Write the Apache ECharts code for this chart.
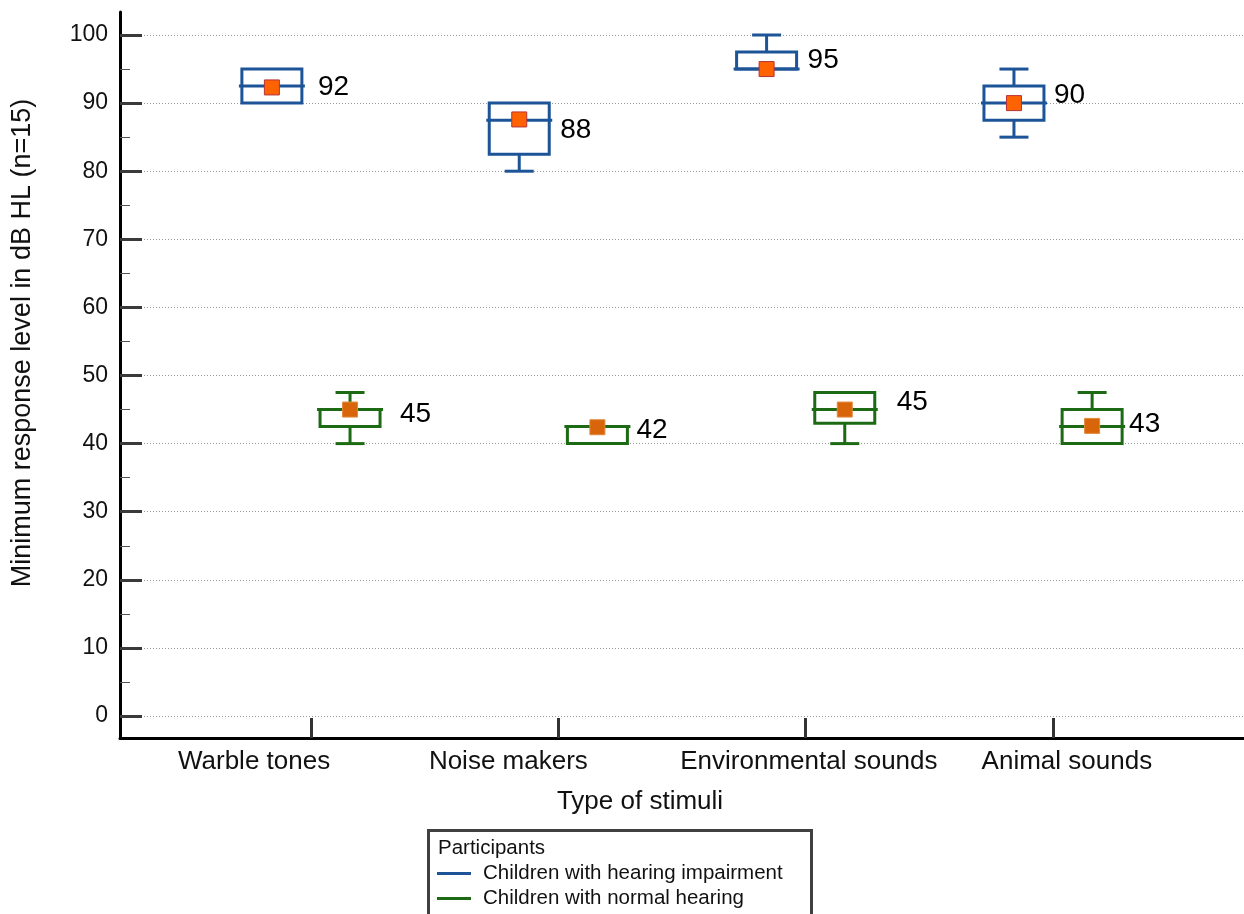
<!DOCTYPE html>
<html>
<head>
<meta charset="utf-8">
<title>Minimum response level by type of stimuli</title>
<script src="https://cdn.jsdelivr.net/npm/echarts@6/dist/echarts.min.js"></script>
<style>
  html, body { margin: 0; padding: 0; background: #fff; }
  #chart { width: 1244px; height: 914px; }
</style>
</head>
<body>
<div id="chart"></div>
<script>
// ---- data -------------------------------------------------------------
const categories = ['Warble tones', 'Noise makers', 'Environmental sounds', 'Animal sounds'];
const yTicks = [0, 10, 20, 30, 40, 50, 60, 70, 80, 90, 100];

// Children with hearing impairment (dB HL)
const impairedMin    = [90, 80, 95, 85];
const impairedQ1     = [90, 82.5, 95, 87.5];
const impairedMedian = [92.5, 87.5, 95, 90];
const impairedQ3     = [95, 90, 97.5, 92.5];
const impairedMax    = [95, 90, 100, 95];
const impairedMean   = [92.3, 87.6, 95, 90];

// Children with normal hearing (dB HL)
const normalMin    = [40, 40, 40, 40];
const normalQ1     = [42.5, 40, 43, 40];
const normalMedian = [45, 42.5, 45, 42.5];
const normalQ3     = [45, 42.5, 47.5, 45];
const normalMax    = [47.5, 42.5, 47.5, 47.5];
const normalMean   = [45, 42.4, 45, 42.6];

// ---- layout -----------------------------------------------------------
const X_MIN = 0.228, X_MAX = 4.772;       // category slots sit at 1..4
const GROUP_SHIFT = 0.158;                // left/right offset of the two groups
const categoryLabelAt = [0.770, 1.798, 3.013, 4.056];
const BOX_W = 60, CAP_W = 29, MEDIAN_EXT = 3, MARK = 15;
const impairedLabelShift = [[46, 0], [41, 11], [41, -9], [40, -8]];
const normalLabelShift   = [[50, 5], [39, 3], [52, -7], [37, -2]];

const BLUE = '#1d5497';
const GREEN = '#1c6b14';
const FONT = '"Liberation Sans", Arial, sans-serif';

function rows(mins, q1s, meds, q3s, maxs, means, shift) {
  return categories.map((c, i) => [i + 1 + shift, mins[i], q1s[i], meds[i], q3s[i], maxs[i], means[i]]);
}

function boxRenderer(color, markFill, markStroke, labelShift) {
  return function (params, api) {
    const x = api.value(0);
    const lo = api.value(1), q1 = api.value(2), med = api.value(3),
          q3 = api.value(4), hi = api.value(5), mean = api.value(6);
    const cx = api.coord([x, 0])[0];
    const y = v => api.coord([x, v])[1];
    const line = { stroke: color, lineWidth: 3 };
    const kids = [];
    if (hi > q3) {
      kids.push({ type: 'line', shape: { x1: cx, y1: y(q3), x2: cx, y2: y(hi) }, style: line });
      kids.push({ type: 'line', shape: { x1: cx - CAP_W / 2, y1: y(hi), x2: cx + CAP_W / 2, y2: y(hi) }, style: line });
    }
    if (lo < q1) {
      kids.push({ type: 'line', shape: { x1: cx, y1: y(q1), x2: cx, y2: y(lo) }, style: line });
      kids.push({ type: 'line', shape: { x1: cx - CAP_W / 2, y1: y(lo), x2: cx + CAP_W / 2, y2: y(lo) }, style: line });
    }
    kids.push({
      type: 'rect',
      shape: { x: cx - BOX_W / 2, y: y(q3), width: BOX_W, height: y(q1) - y(q3) },
      style: { fill: 'transparent', stroke: color, lineWidth: 3 }
    });
    kids.push({
      type: 'line',
      shape: { x1: cx - BOX_W / 2 - MEDIAN_EXT, y1: y(med), x2: cx + BOX_W / 2 + MEDIAN_EXT, y2: y(med) },
      style: line
    });
    kids.push({
      type: 'rect',
      shape: { x: cx - MARK / 2, y: y(mean) - MARK / 2, width: MARK, height: MARK },
      style: { fill: markFill, stroke: markStroke, lineWidth: 1 }
    });
    const s = labelShift[params.dataIndex];
    kids.push({
      type: 'text',
      x: cx + s[0], y: y(mean) + s[1],
      style: {
        text: String(Math.round(mean)),
        fill: '#000', font: '28px ' + FONT,
        align: 'left', verticalAlign: 'middle'
      }
    });
    return { type: 'group', children: kids };
  };
}

const chart = echarts.init(document.getElementById('chart'), null, { renderer: 'canvas' });

chart.setOption({
  backgroundColor: '#fff',
  animation: false,
  textStyle: { fontFamily: FONT },
  grid: [
    { left: 120, right: 0, top: 35, height: 681, outerBoundsMode: 'none' },
    { left: 120, right: 0, top: 12, height: 726, outerBoundsMode: 'none' }
  ],
  xAxis: [
    { gridIndex: 0, type: 'value', min: X_MIN, max: X_MAX, show: false },
    {
      gridIndex: 1, type: 'value', min: X_MIN, max: X_MAX,
      name: 'Type of stimuli', nameLocation: 'middle', nameGap: 51,
      nameTextStyle: { fontSize: 26, color: '#111', padding: [0, 84, 0, 0] },
      axisLine: { show: true, onZero: false, lineStyle: { color: '#000', width: 3 } },
      axisTick: { show: true, inside: true, length: 20, customValues: [1, 2, 3, 4],
                  lineStyle: { color: '#333', width: 3 } },
      axisLabel: {
        show: true, margin: 11, fontSize: 26, color: '#111',
        customValues: categoryLabelAt,
        formatter: v => {
          let best = 0;
          categoryLabelAt.forEach((p, i) => { if (Math.abs(p - v) < Math.abs(categoryLabelAt[best] - v)) best = i; });
          return categories[best];
        }
      },
      splitLine: { show: false }
    }
  ],
  yAxis: [
    {
      gridIndex: 0, type: 'value', min: yTicks[0], max: yTicks[yTicks.length - 1], interval: 10,
      axisLine: { show: false },
      axisTick: { show: true, inside: true, length: 22, lineStyle: { color: '#3a3a3a', width: 3 } },
      minorTick: { show: true, splitNumber: 2, length: 10, lineStyle: { color: '#555', width: 1 } },
      axisLabel: { fontSize: 23, color: '#111', margin: 12 },
      splitLine: { show: true, lineStyle: { color: '#9a9a9a', width: 1, type: [1, 2] } }
    },
    {
      gridIndex: 1, type: 'value', min: 0, max: 1,
      name: 'Minimum response level in dB HL (n=15)', nameLocation: 'middle', nameGap: 84,
      nameTextStyle: { fontSize: 27, color: '#111', padding: [0, 0, 0, 64] },
      axisLine: { show: true, onZero: false, lineStyle: { color: '#000', width: 3 } },
      axisTick: { show: false }, axisLabel: { show: false }, splitLine: { show: false }
    }
  ],
  legend: {
    orient: 'vertical', left: 437, top: 863, padding: 0,
    icon: 'rect', itemWidth: 34, itemHeight: 3, itemGap: 4,
    selectedMode: false,
    textStyle: { fontSize: 20.5, color: '#111', lineHeight: 20, padding: [0, 0, 0, 7] },
    data: ['Children with hearing impairment', 'Children with normal hearing']
  },
  graphic: [
    { type: 'rect', left: 427, top: 829, z: 0,
      shape: { width: 383, height: 130 },
      style: { fill: '#fff', stroke: '#404040', lineWidth: 3 } },
    { type: 'text', left: 438, top: 838, z: 1,
      style: { text: 'Participants', font: '20.5px ' + FONT, fill: '#111' } }
  ],
  series: [
    {
      name: 'Children with hearing impairment', type: 'custom',
      xAxisIndex: 0, yAxisIndex: 0, z: 5,
      itemStyle: { color: BLUE },
      renderItem: boxRenderer(BLUE, '#ff6200', '#b8323a', impairedLabelShift),
      data: rows(impairedMin, impairedQ1, impairedMedian, impairedQ3, impairedMax, impairedMean, -GROUP_SHIFT)
    },
    {
      name: 'Children with normal hearing', type: 'custom',
      xAxisIndex: 0, yAxisIndex: 0, z: 5,
      itemStyle: { color: GREEN },
      renderItem: boxRenderer(GREEN, '#d9650b', '#e08a3a', normalLabelShift),
      data: rows(normalMin, normalQ1, normalMedian, normalQ3, normalMax, normalMean, GROUP_SHIFT)
    }
  ]
});
</script>
</body>
</html>
